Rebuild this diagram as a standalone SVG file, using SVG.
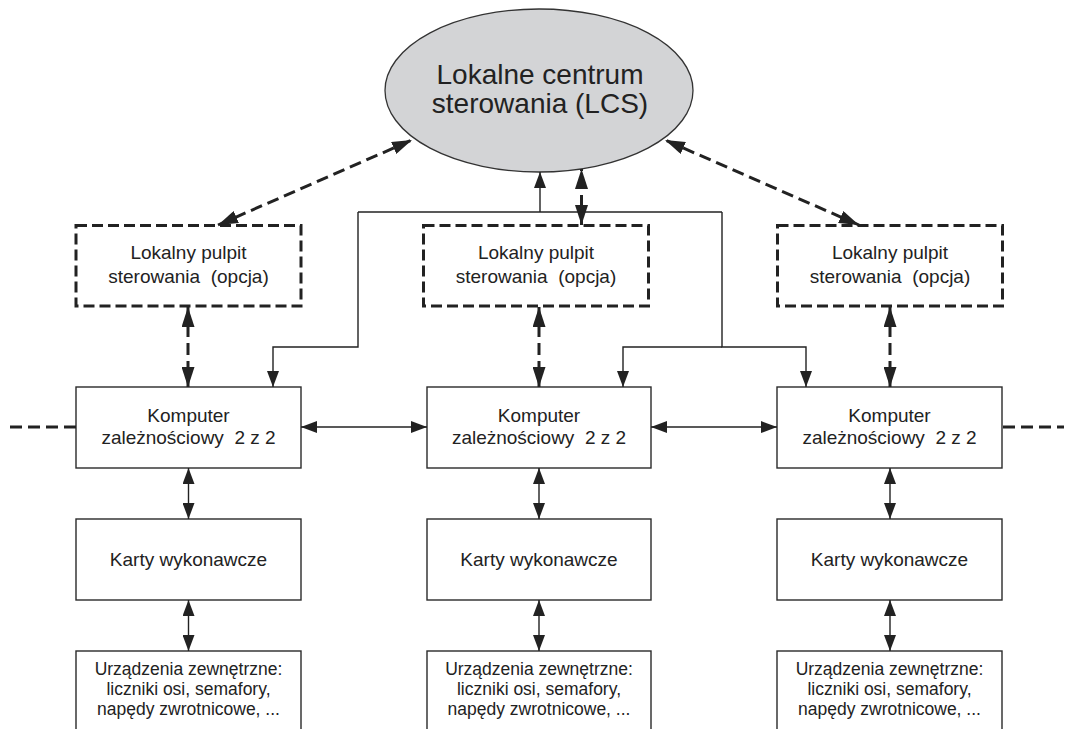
<svg xmlns="http://www.w3.org/2000/svg" width="1066" height="729" viewBox="0 0 1066 729">
<style>
.box{fill:#fff;stroke:#2a2a2a;stroke-width:1.4}
.dbox{fill:#fff;stroke:#222;stroke-width:3;stroke-dasharray:11 5}
.t{font-family:"Liberation Sans",Arial,sans-serif;fill:#222;text-anchor:middle}
.ln{fill:none;stroke:#222;stroke-width:1.4}
.dl{fill:none;stroke:#222;stroke-width:3;stroke-dasharray:12 6}
</style>
<defs>
<marker id="a" viewBox="0 0 16 12" refX="16" refY="6" markerWidth="16" markerHeight="12" markerUnits="userSpaceOnUse" orient="auto-start-reverse"><path d="M0,0 L16,6 L0,12 z" fill="#222"/></marker>
<marker id="b" viewBox="0 0 20 13" refX="20" refY="6.5" markerWidth="20" markerHeight="13" markerUnits="userSpaceOnUse" orient="auto-start-reverse"><path d="M0,0 L20,6.5 L0,13 z" fill="#222"/></marker>
</defs>
<rect width="1066" height="729" fill="#fff"/>
<g id="lcs">
<ellipse cx="539" cy="90.5" rx="154" ry="81.5" fill="#d3d4d6" stroke="#333" stroke-width="1.3"/>
<text class="t" x="540" y="84" font-size="28">Lokalne centrum</text>
<text class="t" x="540" y="113" font-size="28">sterowania (LCS)</text>
</g>
<g id="pulpit1"><rect class="dbox" x="76" y="225.5" width="225" height="80.5"/>
<text class="t" x="188.5" y="259" font-size="19">Lokalny pulpit</text><text class="t" x="188.5" y="283" font-size="19">sterowania&#160; (opcja)</text></g>
<g id="pulpit2"><rect class="dbox" x="423.5" y="225.5" width="225" height="80.5"/>
<text class="t" x="536" y="259" font-size="19">Lokalny pulpit</text><text class="t" x="536" y="283" font-size="19">sterowania&#160; (opcja)</text></g>
<g id="pulpit3"><rect class="dbox" x="777.5" y="225.5" width="225" height="80.5"/>
<text class="t" x="890" y="259" font-size="19">Lokalny pulpit</text><text class="t" x="890" y="283" font-size="19">sterowania&#160; (opcja)</text></g>
<g id="komp1"><rect class="box" x="76" y="387" width="225" height="81"/>
<text class="t" x="188.5" y="422" font-size="19">Komputer</text><text class="t" x="188.5" y="444" font-size="19">zależnościowy&#160; 2 z 2</text></g>
<g id="komp2"><rect class="box" x="427" y="387" width="224" height="81"/>
<text class="t" x="539" y="422" font-size="19">Komputer</text><text class="t" x="539" y="444" font-size="19">zależnościowy&#160; 2 z 2</text></g>
<g id="komp3"><rect class="box" x="777" y="387" width="225" height="81"/>
<text class="t" x="889.5" y="422" font-size="19">Komputer</text><text class="t" x="889.5" y="444" font-size="19">zależnościowy&#160; 2 z 2</text></g>
<g id="karty1"><rect class="box" x="76" y="519" width="225" height="81"/><text class="t" x="188.5" y="566" font-size="19">Karty wykonawcze</text></g>
<g id="karty2"><rect class="box" x="427" y="519" width="224" height="81"/><text class="t" x="539" y="566" font-size="19">Karty wykonawcze</text></g>
<g id="karty3"><rect class="box" x="777" y="519" width="225" height="81"/><text class="t" x="889.5" y="566" font-size="19">Karty wykonawcze</text></g>
<g id="urz1"><rect class="box" x="76" y="651" width="225" height="100"/>
<text class="t" x="188.5" y="675" font-size="17.5">Urządzenia zewnętrzne:</text><text class="t" x="188.5" y="695" font-size="17.5">liczniki osi, semafory,</text><text class="t" x="188.5" y="715" font-size="17.5">napędy zwrotnicowe, ...</text></g>
<g id="urz2"><rect class="box" x="427" y="651" width="224" height="100"/>
<text class="t" x="539" y="675" font-size="17.5">Urządzenia zewnętrzne:</text><text class="t" x="539" y="695" font-size="17.5">liczniki osi, semafory,</text><text class="t" x="539" y="715" font-size="17.5">napędy zwrotnicowe, ...</text></g>
<g id="urz3"><rect class="box" x="777" y="651" width="225" height="100"/>
<text class="t" x="889.5" y="675" font-size="17.5">Urządzenia zewnętrzne:</text><text class="t" x="889.5" y="695" font-size="17.5">liczniki osi, semafory,</text><text class="t" x="889.5" y="715" font-size="17.5">napędy zwrotnicowe, ...</text></g>
<g id="connectors">
<line class="dl" x1="218" y1="225" x2="412" y2="140" marker-start="url(#b)" marker-end="url(#b)"/>
<line class="dl" x1="859" y1="225" x2="665" y2="140" marker-start="url(#b)" marker-end="url(#b)"/>
<line class="dl" x1="581.5" y1="225" x2="581.5" y2="169" marker-start="url(#b)" marker-end="url(#b)"/>
<line class="dl" x1="188" y1="307" x2="188" y2="387" marker-start="url(#b)" marker-end="url(#b)"/>
<line class="dl" x1="539" y1="307" x2="539" y2="387" marker-start="url(#b)" marker-end="url(#b)"/>
<line class="dl" x1="890" y1="307" x2="890" y2="387" marker-start="url(#b)" marker-end="url(#b)"/>
<line class="ln" x1="540" y1="212" x2="540" y2="172" marker-end="url(#a)"/>
<line class="ln" x1="358" y1="212" x2="722" y2="212"/>
<polyline class="ln" points="358,212 358,347 273,347 273,387" marker-end="url(#a)"/>
<polyline class="ln" points="722,212 722,347 806,347 806,387" marker-end="url(#a)"/>
<polyline class="ln" points="722,347 623,347 623,387" marker-end="url(#a)"/>
<line class="ln" x1="301" y1="427" x2="427" y2="427" marker-start="url(#a)" marker-end="url(#a)"/>
<line class="ln" x1="651" y1="427" x2="777" y2="427" marker-start="url(#a)" marker-end="url(#a)"/>
<line class="ln" x1="188.5" y1="468" x2="188.5" y2="519" marker-start="url(#a)" marker-end="url(#a)"/>
<line class="ln" x1="539" y1="468" x2="539" y2="519" marker-start="url(#a)" marker-end="url(#a)"/>
<line class="ln" x1="890" y1="468" x2="890" y2="519" marker-start="url(#a)" marker-end="url(#a)"/>
<line class="ln" x1="188.5" y1="600" x2="188.5" y2="651" marker-start="url(#a)" marker-end="url(#a)"/>
<line class="ln" x1="539" y1="600" x2="539" y2="651" marker-start="url(#a)" marker-end="url(#a)"/>
<line class="ln" x1="890" y1="600" x2="890" y2="651" marker-start="url(#a)" marker-end="url(#a)"/>
<line class="dl" x1="10" y1="427" x2="76" y2="427"/>
<line class="dl" x1="1003" y1="427" x2="1064" y2="427"/>
</g>
</svg>
